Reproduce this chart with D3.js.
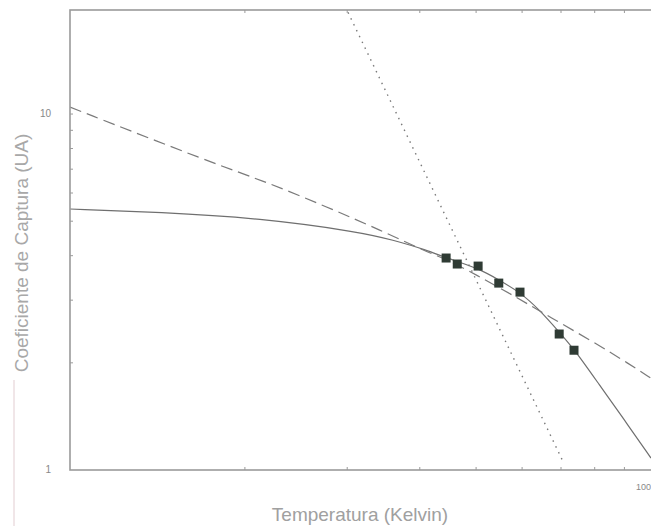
<!DOCTYPE html>
<html>
<head>
<meta charset="utf-8">
<script src="https://cdn.jsdelivr.net/npm/d3@7"></script>
<style>
  body { margin: 0; background: #fff; }
  svg { display: block; font-family: "Liberation Sans", Arial, sans-serif; }
</style>
</head>
<body>
<div id="chart"></div>
<script>
// measured points (squares)
const tempPts = [44.4, 46.4, 50.4, 54.7, 59.5, 69.5, 73.7];
const coefPts = [3.94, 3.79, 3.74, 3.35, 3.16, 2.41, 2.17];

// solid fit
const solidT = [10, 14.3, 21.2, 31.6, 35.9, 41.1, 44.4, 50.4, 54.7, 59.5, 64.4, 69.5, 73.7, 81.6, 89.5, 100];
const solidC = [5.41, 5.30, 5.10, 4.66, 4.43, 4.15, 3.94, 3.69, 3.42, 3.16, 2.81, 2.44, 2.19, 1.73, 1.40, 1.08];

// dashed fit
const dashT = [10, 17.6, 21.8, 27.7, 34.2, 41.1, 44.4, 49.8, 59.0, 67.0, 78.5, 92.0, 100];
const dashC = [10.46, 7.28, 6.44, 5.48, 4.72, 4.10, 3.91, 3.55, 3.04, 2.69, 2.32, 1.98, 1.81];

// dotted power law
const dotT = [30.1, 70.3];
const dotC = [19.3, 1.07];

const yTickLabels = [1, 10];
const xTickLabels = [100];

const W = 651, H = 526;
const m = { left: 70, right: 651, top: 10, bottom: 470 };

const svg = d3.select("#chart").append("svg")
  .attr("width", W).attr("height", H);

const x = d3.scaleLog().domain([10, 100]).range([m.left, m.right]);
const y = d3.scaleLog().domain([1, 19.6]).range([m.bottom, m.top]);

svg.append("clipPath").attr("id", "plot")
  .append("rect").attr("x", m.left).attr("y", m.top)
  .attr("width", m.right - m.left).attr("height", m.bottom - m.top);

const g = svg.append("g").attr("clip-path", "url(#plot)");

const line = d3.line()
  .x(d => x(d[0])).y(d => y(d[1]))
  .curve(d3.curveBasis);

const zip = (a, b) => a.map((v, i) => [v, b[i]]);

g.append("path")
  .attr("d", line(zip(solidT, solidC)))
  .attr("fill", "none").attr("stroke", "#6f6f6f").attr("stroke-width", 1.2);

g.append("path")
  .attr("d", line(zip(dashT, dashC)))
  .attr("fill", "none").attr("stroke", "#7a7a7a").attr("stroke-width", 1.2)
  .attr("stroke-dasharray", "12,6");

g.append("path")
  .attr("d", d3.line().x(d => x(d[0])).y(d => y(d[1]))(zip(dotT, dotC)))
  .attr("fill", "none").attr("stroke", "#7a7a7a").attr("stroke-width", 1.4)
  .attr("stroke-dasharray", "1.5,5");

// squares
const s = 9;
g.selectAll("rect.pt").data(zip(tempPts, coefPts)).enter()
  .append("rect").attr("class", "pt")
  .attr("x", d => x(d[0]) - s / 2).attr("y", d => y(d[1]) - s / 2)
  .attr("width", s).attr("height", s)
  .attr("fill", "#2f3b34");

// frame
const axisColor = "#9a9a9a";
svg.append("rect")
  .attr("x", m.left).attr("y", m.top)
  .attr("width", m.right - m.left + 2).attr("height", m.bottom - m.top)
  .attr("fill", "none").attr("stroke", axisColor).attr("stroke-width", 1.6);

// minor ticks (inward)
const xt = x.ticks().filter(v => v > 10 && v < 100);
svg.selectAll("line.xb").data(xt).enter().append("line")
  .attr("x1", d => x(d)).attr("x2", d => x(d))
  .attr("y1", m.bottom).attr("y2", m.bottom - 3)
  .attr("stroke", axisColor);
svg.selectAll("line.xt").data(xt).enter().append("line")
  .attr("x1", d => x(d)).attr("x2", d => x(d))
  .attr("y1", m.top).attr("y2", m.top + 3)
  .attr("stroke", axisColor);

const yt = y.ticks().filter(v => v > 1 && v <= 10);
svg.selectAll("line.yl").data(yt).enter().append("line")
  .attr("x1", m.left).attr("x2", m.left + 3)
  .attr("y1", d => y(d)).attr("y2", d => y(d))
  .attr("stroke", axisColor);

// tick labels
svg.selectAll("text.yl").data(yTickLabels).enter().append("text")
  .attr("x", 51).attr("y", d => y(d) + 3)
  .attr("text-anchor", "end")
  .attr("font-size", 10).attr("fill", "#888")
  .text(d => d);

svg.selectAll("text.xl").data(xTickLabels).enter().append("text")
  .attr("x", d => x(d)).attr("y", 490)
  .attr("text-anchor", "end")
  .attr("font-size", 9).attr("fill", "#888")
  .text(d => d);

// axis titles
svg.append("text")
  .attr("transform", "translate(28,253) rotate(-90)")
  .attr("text-anchor", "middle")
  .attr("font-size", 19).attr("fill", "#a8a8a8")
  .text("Coeficiente de Captura (UA)");

svg.append("text")
  .attr("x", 360).attr("y", 521)
  .attr("text-anchor", "middle")
  .attr("font-size", 19).attr("fill", "#a0a0a0")
  .text("Temperatura (Kelvin)");

// scan edge line at far left
svg.append("line")
  .attr("x1", 14).attr("x2", 14).attr("y1", 380).attr("y2", H)
  .attr("stroke", "#e2cdd1").attr("stroke-width", 1);
</script>
</body>
</html>
